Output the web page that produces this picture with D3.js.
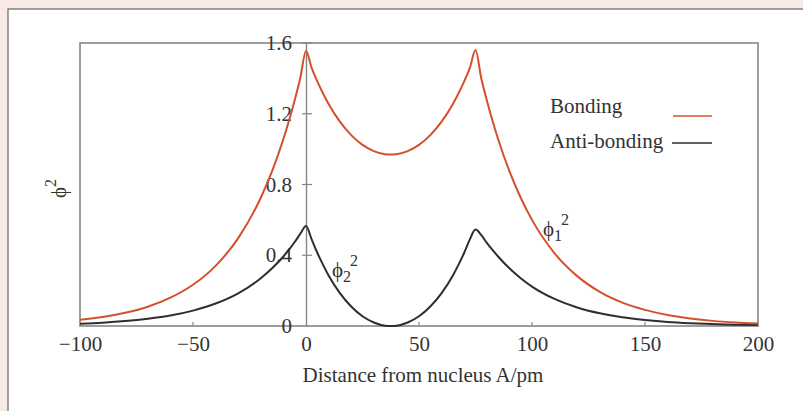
<!DOCTYPE html>
<html>
<head>
<meta charset="utf-8">
<script src="https://cdn.jsdelivr.net/npm/d3@7"></script>
<style>
  html, body { margin: 0; padding: 0; background: #f8ebe6; }
  svg { display: block; }
  text { font-family: "Liberation Serif", "Times New Roman", serif; fill: #333; }
</style>
</head>
<body>
<script>
// ---- data ----
const distance = [-100, -90, -80, -70, -60, -50, -40, -30, -20, -15, -10, -7.5, -5, -2.5, 0, 2.5, 5, 7.5, 10, 15, 20, 25, 30, 35, 37.5, 40, 45, 50, 55, 60, 65, 67.5, 70, 72.5, 75, 77.5, 80, 82.5, 85, 90, 95, 100, 110, 120, 130, 140, 150, 160, 170, 180, 190, 200];
const bonding = [0.035, 0.051, 0.075, 0.109, 0.160, 0.233, 0.340, 0.497, 0.725, 0.875, 1.057, 1.162, 1.277, 1.404, 1.555, 1.459, 1.383, 1.316, 1.255, 1.155, 1.079, 1.024, 0.989, 0.971, 0.969, 0.971, 0.989, 1.024, 1.079, 1.155, 1.255, 1.316, 1.383, 1.459, 1.560, 1.404, 1.277, 1.162, 1.057, 0.875, 0.725, 0.600, 0.411, 0.282, 0.193, 0.132, 0.091, 0.062, 0.043, 0.029, 0.020, 0.014];
const antiBonding = [0.013, 0.019, 0.028, 0.041, 0.059, 0.087, 0.127, 0.185, 0.270, 0.326, 0.393, 0.432, 0.475, 0.522, 0.565, 0.490, 0.414, 0.347, 0.286, 0.186, 0.110, 0.055, 0.020, 0.002, 0.000, 0.002, 0.020, 0.055, 0.110, 0.186, 0.286, 0.347, 0.414, 0.490, 0.545, 0.515, 0.470, 0.430, 0.393, 0.326, 0.270, 0.223, 0.153, 0.105, 0.072, 0.049, 0.034, 0.023, 0.016, 0.011, 0.007, 0.005];
const xTicks = [-100, -50, 0, 50, 100, 150, 200];
const yTicks = [0, 0.4, 0.8, 1.2, 1.6];
const seriesNames = ["Bonding", "Anti-bonding"];
const xTitle = "Distance from nucleus A/pm";

const W = 803, H = 411;
const FS = 21;
const red = "#d4502c", dark = "#2e2e2e", axisCol = "#858585";
const svg = d3.select("body").append("svg").attr("width", W).attr("height", H);

// white panel
svg.append("rect").attr("x", 8).attr("y", 9).attr("width", W).attr("height", H)
  .attr("fill", "#fff").attr("stroke", "#666").attr("stroke-width", 1.2);

const x = d3.scaleLinear().domain([-100, 200]).range([80, 758]);
const y = d3.scaleLinear().domain([0, 1.6]).range([326, 43]);

// frame
svg.append("rect").attr("x", x(-100)).attr("y", y(1.6))
  .attr("width", x(200) - x(-100)).attr("height", y(0) - y(1.6))
  .attr("fill", "none").attr("stroke", axisCol).attr("stroke-width", 1.6);

// bottom axis: inward ticks, labels below
const xAxis = svg.append("g").attr("transform", `translate(0,${y(0)})`)
  .call(d3.axisBottom(x).tickValues(xTicks).tickSize(0).tickPadding(10)
    .tickFormat(d => d < 0 ? "\u2212" + Math.abs(d) : d));
xAxis.select(".domain").remove();
xAxis.selectAll("text").attr("font-size", FS).attr("fill", "#333")
  .attr("font-family", "Liberation Serif, serif");
svg.append("g").selectAll("line").data(xTicks.filter(d => d > -100 && d < 200 && d !== 0)).join("line")
  .attr("x1", d => x(d)).attr("x2", d => x(d)).attr("y1", y(0)).attr("y2", y(0) - 4)
  .attr("stroke", axisCol).attr("stroke-width", 1.2);

// vertical zero axis with cross ticks
const yAxis = svg.append("g").attr("transform", `translate(${x(0)},0)`)
  .call(d3.axisLeft(y).tickValues(yTicks).tickSize(0).tickPadding(14)
    .tickFormat(d => d === 0 ? "0" : d3.format(".1f")(d)));
yAxis.select(".domain").attr("stroke", axisCol).attr("stroke-width", 1.4);
yAxis.selectAll("text").attr("font-size", FS).attr("fill", "#333")
  .attr("font-family", "Liberation Serif, serif");
svg.append("g").selectAll("line").data(yTicks.filter(d => d > 0)).join("line")
  .attr("x1", x(0) - 4).attr("x2", x(0) + 6).attr("y1", d => y(d)).attr("y2", d => y(d))
  .attr("stroke", axisCol).attr("stroke-width", 1.2);

// curves
const pts = (vals) => distance.map((d, i) => [d, vals[i]]);
const line = d3.line().x(d => x(d[0])).y(d => y(d[1])).curve(d3.curveMonotoneX);
svg.append("path").attr("d", line(pts(antiBonding))).attr("fill", "none")
  .attr("stroke", dark).attr("stroke-width", 2);
svg.append("path").attr("d", line(pts(bonding))).attr("fill", "none")
  .attr("stroke", red).attr("stroke-width", 2);

// legend
const leg = svg.append("g");
leg.append("text").attr("x", 550).attr("y", 113).attr("font-size", FS).text(seriesNames[0]);
leg.append("line").attr("x1", 673).attr("x2", 712).attr("y1", 116).attr("y2", 116)
  .attr("stroke", red).attr("stroke-width", 1.6);
leg.append("text").attr("x", 550).attr("y", 148).attr("font-size", FS).text(seriesNames[1]);
leg.append("line").attr("x1", 672).attr("x2", 712).attr("y1", 143).attr("y2", 143)
  .attr("stroke", dark).attr("stroke-width", 1.6);

// curve labels
function phiLabel(px, py, sub) {
  const t = svg.append("text").attr("x", px).attr("y", py).attr("font-size", FS);
  t.append("tspan").text("\u03D5");
  t.append("tspan").attr("font-size", 16).attr("dy", 5).text(sub);
  t.append("tspan").attr("font-size", 16).attr("dx", -1).attr("dy", -16).text("2");
}
phiLabel(332, 277, "2");
phiLabel(543, 236, "1");

// axis titles
svg.append("text").attr("x", 423).attr("y", 382).attr("text-anchor", "middle")
  .attr("font-size", FS).text(xTitle);
const yt = svg.append("text").attr("transform", "translate(66,198) rotate(-90)")
  .attr("font-size", FS);
yt.append("tspan").text("\u03D5");
yt.append("tspan").attr("font-size", 16).attr("dy", -10).text("2");
</script>
</body>
</html>
